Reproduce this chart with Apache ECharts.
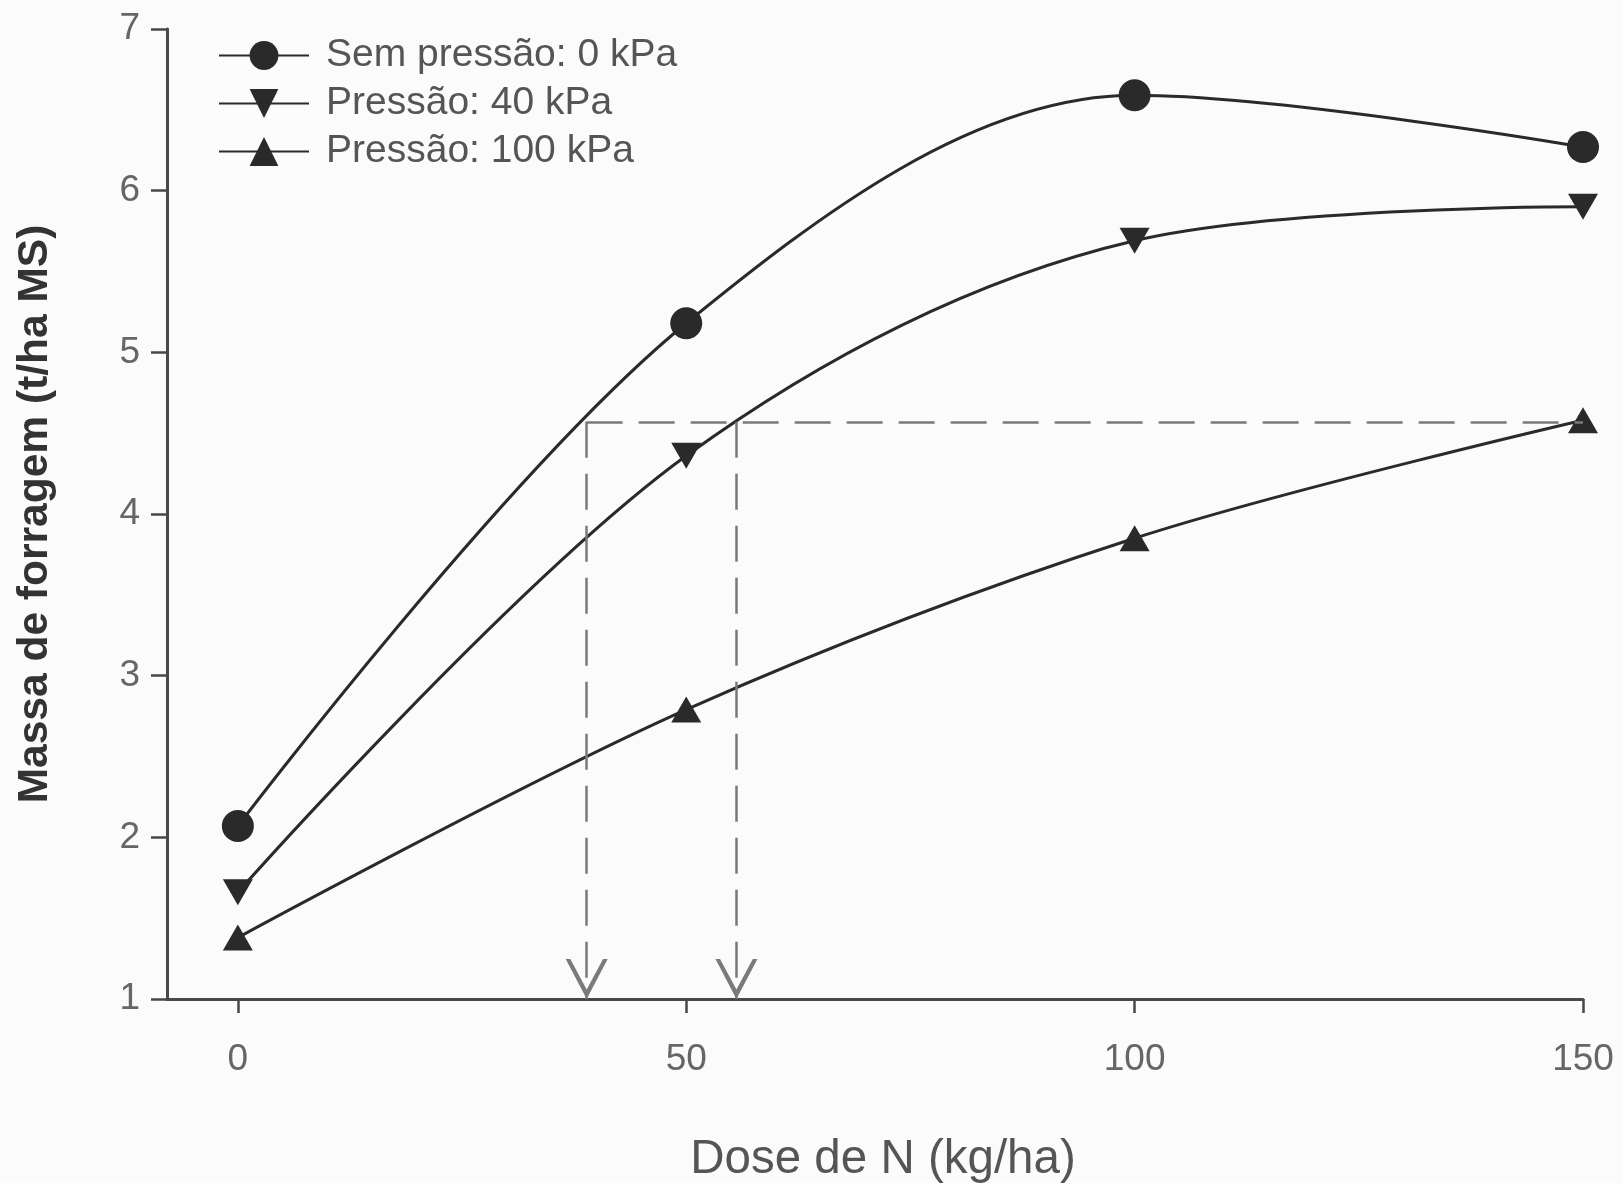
<!DOCTYPE html>
<html>
<head>
<meta charset="utf-8">
<script src="https://cdn.jsdelivr.net/npm/echarts@6/dist/echarts.min.js"></script>
<style>
  html, body { margin: 0; padding: 0; background: #fbfbfb; }
  #chart { width: 1623px; height: 1183px; }
</style>
</head>
<body>
<div id="chart"></div>
<script>
// Nitrogen dose (kg/ha)
const doses = [0, 50, 100, 150];
// Forage mass (t/ha DM) for each grazing pressure
const semPressao = [2.07, 5.18, 6.59, 6.27];
const pressao40 = [1.66, 4.36, 5.69, 5.90];
const pressao100 = [1.38, 2.79, 3.85, 4.58];
const seriesNames = ['Sem pressão: 0 kPa', 'Pressão: 40 kPa', 'Pressão: 100 kPa'];
const xTicks = [0, 50, 100, 150];
// Reference yield (max under 100 kPa) and the doses reaching it
const refYield = 4.57;
const refDoses = [38.9, 55.6];

const ink = '#2a2a2a';
const textGray = '#555';
const dashGray = '#7a7a7a';
const font = '"Liberation Sans", Arial, Helvetica, sans-serif';

const toPoints = vals => doses.map((d, i) => [d, vals[i]]);

// Open "V" arrowhead, tip on top in local coordinates
const vArrow = 'path://M5,0 L10,10 L8.9,10 L5,2.4 L1.1,10 L0,10 Z';

const guideLines = {
  silent: true,
  symbol: ['none', 'none'],
  label: { show: false },
  lineStyle: { color: dashGray, width: 2.5, type: [36, 16] },
  data: [
    [{ coord: [refDoses[0], refYield], symbol: 'none' }, { coord: [doses[3], refYield], symbol: 'none' }],
    [{ coord: [refDoses[0], refYield], symbol: 'none' },
     { coord: [refDoses[0], 1], symbol: vArrow, symbolSize: [42, 40], symbolOffset: [0, 20] }],
    [{ coord: [refDoses[1], refYield], symbol: 'none' },
     { coord: [refDoses[1], 1], symbol: vArrow, symbolSize: [42, 40], symbolOffset: [0, 20] }]
  ]
};

const baseLine = {
  type: 'line',
  smooth: 0.34,
  lineStyle: { color: ink, width: 3 },
  itemStyle: { color: ink, borderWidth: 0 },
  emphasis: { disabled: true },
  z: 3
};

const option = {
  animation: false,
  backgroundColor: '#fbfbfb',
  grid: { left: 167, right: 40, top: 29, bottom: 184, containLabel: false, outerBoundsMode: 'none' },
  legend: {
    left: 213,
    top: 31,
    orient: 'vertical',
    itemWidth: 90,
    itemHeight: 36,
    itemGap: 9,
    textStyle: { fontFamily: font, fontSize: 39, color: textGray, padding: [0, 0, 0, 12] },
    data: seriesNames
  },
  xAxis: {
    type: 'value',
    min: -7.9,
    max: 150,
    axisLine: { onZero: false, lineStyle: { color: '#484848', width: 3 } },
    axisTick: { show: true, customValues: xTicks, length: 14, lineStyle: { color: '#484848', width: 2.5 } },
    axisLabel: { customValues: xTicks, fontFamily: font, fontSize: 37, color: '#666', margin: 42 },
    splitLine: { show: false },
    name: 'Dose de N (kg/ha)',
    nameLocation: 'middle',
    nameGap: 137,
    nameTextStyle: { fontFamily: font, fontSize: 47.5, color: textGray, padding: [0, 0, 0, 16] }
  },
  yAxis: {
    type: 'value',
    min: 1,
    max: 7,
    interval: 1,
    axisLine: { show: true, onZero: false, lineStyle: { color: '#484848', width: 3 } },
    axisTick: { show: true, length: 16, lineStyle: { color: '#484848', width: 2.5 } },
    axisLabel: { fontFamily: font, fontSize: 37, color: '#666', margin: 27 },
    splitLine: { show: false },
    name: 'Massa de forragem (t/ha MS)',
    nameLocation: 'middle',
    nameGap: 110,
    nameTextStyle: { fontFamily: font, fontSize: 42.5, fontWeight: 'bold', color: '#333' }
  },
  series: [
    Object.assign({}, baseLine, {
      name: seriesNames[0],
      data: toPoints(semPressao),
      symbol: 'circle',
      symbolSize: 32,
      markLine: guideLines
    }),
    Object.assign({}, baseLine, {
      name: seriesNames[1],
      data: toPoints(pressao40),
      symbol: 'triangle',
      symbolRotate: 180,
      symbolSize: [30, 26]
    }),
    Object.assign({}, baseLine, {
      name: seriesNames[2],
      data: toPoints(pressao100),
      symbol: 'triangle',
      symbolSize: [30, 26]
    })
  ]
};

const chart = echarts.init(document.getElementById('chart'), null, { renderer: 'canvas' });
chart.setOption(option);
</script>
</body>
</html>
